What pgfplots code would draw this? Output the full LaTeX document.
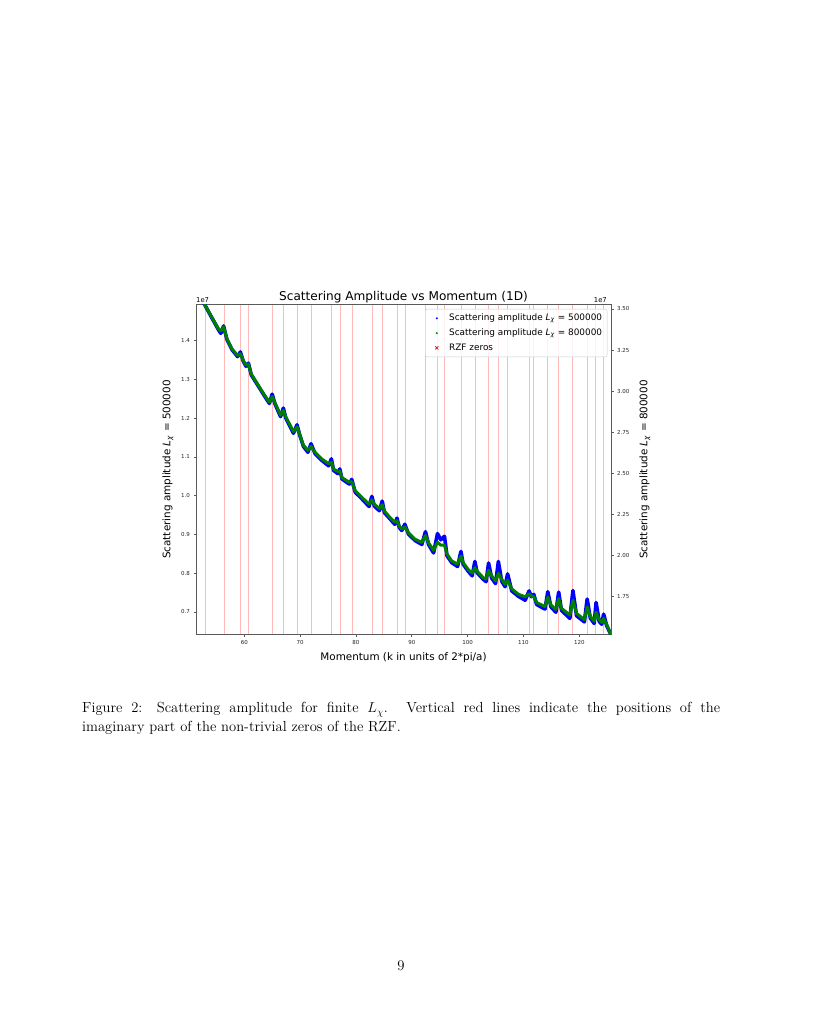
\documentclass[border=0pt]{standalone}
\usepackage{fontspec}
\usepackage{pgfplots}
\usepackage{pgfplotstable}
\pgfplotsset{compat=1.18}
\newfontfamily\dv{DejaVu Sans}
\definecolor{mplblue}{RGB}{0,0,255}
\definecolor{mplgreen}{RGB}{0,128,0}
\definecolor{zeroline}{RGB}{255,185,185}
\definecolor{spine}{RGB}{90,90,90}

% Scattering amplitude, L = 500000 (units of 1e7)
\pgfplotstableread{
k v
51.4 1.534
53.0 1.491
54.2 1.459
55.4 1.428
55.8 1.419
56.3 1.438
56.9 1.403
57.8 1.377
58.8 1.359
59.3 1.371
59.8 1.348
60.3 1.334
60.75 1.342
61.25 1.312
62.56 1.282
63.6 1.258
64.5 1.238
65.0 1.262
65.5 1.237
66.5 1.204
67.0 1.226
67.45 1.200
68.8 1.161
69.45 1.183
69.9 1.158
70.6 1.127
71.4 1.112
71.95 1.134
72.7 1.108
73.9 1.091
75.1 1.077
75.6 1.095
76.0 1.065
76.75 1.057
77.1 1.069
77.5 1.043
78.8 1.030
79.25 1.042
79.86 1.009
81.05 0.992
82.35 0.972
82.85 0.998
83.3 0.973
84.2 0.961
84.7 0.986
85.1 0.956
86.1 0.940
86.95 0.926
87.35 0.942
87.75 0.918
88.2 0.910
88.75 0.926
89.4 0.901
90.6 0.884
91.8 0.874
92.45 0.907
93.0 0.874
93.9 0.852
94.6 0.902
95.2 0.886
95.85 0.895
96.3 0.845
97.15 0.827
98.2 0.817
98.8 0.856
99.2 0.823
100.1 0.805
100.8 0.793
101.3 0.830
101.7 0.801
102.8 0.784
103.3 0.778
103.75 0.826
104.3 0.787
105.0 0.773
105.5 0.830
106.1 0.779
106.7 0.765
107.15 0.798
107.9 0.754
109.1 0.740
110.3 0.730
111.0 0.754
111.4 0.739
111.85 0.745
112.35 0.719
113.85 0.707
114.35 0.752
114.9 0.713
115.8 0.699
116.3 0.751
116.8 0.704
118.3 0.683
118.85 0.755
119.5 0.690
120.9 0.674
121.4 0.733
121.96 0.684
122.66 0.670
123.0 0.724
123.56 0.675
124.0 0.668
124.35 0.694
124.9 0.664
125.5 0.646
125.7 0.640
}\bluedata

% Scattering amplitude, L = 800000 (units of 1e7)
\pgfplotstableread{
k g
51.4 3.623
53.0 3.522
54.2 3.449
55.4 3.378
55.8 3.366
56.3 3.390
56.9 3.319
57.8 3.257
58.8 3.217
59.3 3.227
59.8 3.189
60.3 3.158
60.75 3.165
61.25 3.104
62.56 3.033
63.6 2.977
64.5 2.934
65.0 2.967
65.5 2.929
66.5 2.854
67.0 2.882
67.45 2.842
68.8 2.755
69.45 2.783
69.9 2.741
70.6 2.670
71.4 2.641
71.95 2.665
72.7 2.627
73.9 2.587
75.1 2.559
75.6 2.568
76.0 2.526
76.75 2.512
77.1 2.514
77.5 2.474
78.8 2.446
79.25 2.450
79.86 2.394
81.05 2.354
82.35 2.313
82.85 2.339
83.3 2.311
84.2 2.287
84.7 2.309
85.1 2.271
86.1 2.231
86.95 2.203
87.35 2.212
87.75 2.179
88.2 2.162
88.75 2.174
89.4 2.139
90.6 2.099
91.8 2.080
92.45 2.122
93.0 2.077
93.9 2.033
94.6 2.080
95.2 2.063
95.85 2.063
96.3 2.009
97.15 1.967
98.2 1.948
98.8 1.997
99.2 1.957
100.1 1.915
100.8 1.893
101.3 1.926
101.7 1.905
102.8 1.865
103.3 1.858
103.75 1.910
104.3 1.877
105.0 1.846
105.5 1.891
106.1 1.856
106.7 1.825
107.15 1.849
107.9 1.797
109.1 1.764
110.3 1.749
111.0 1.768
111.4 1.754
111.85 1.749
112.35 1.714
113.85 1.690
114.35 1.747
114.9 1.700
115.8 1.672
116.3 1.738
116.8 1.679
118.3 1.638
118.85 1.728
119.5 1.648
120.9 1.610
121.4 1.688
121.96 1.631
122.66 1.601
123.0 1.655
123.56 1.610
124.0 1.594
124.35 1.617
124.9 1.580
125.5 1.532
125.7 1.516
}\greendata

\pgfplotsset{
  common/.style={
    at={(196pt,382.7pt)}, anchor=south west,
    scale only axis, width=415pt, height=329.6pt,
    xmin=51.36, xmax=125.67,
    tick align=outside, major tick length=2.5pt,
    every tick/.style={spine, line width=0.6pt},
    axis line style={spine, line width=0.8pt},
    tick label style={font=\dv\fontsize{5.5}{6}\selectfont, text=black!85},
    /pgf/number format/assume math mode=true,
    label style={font=\dv\fontsize{10.4}{12}\selectfont},
    clip mode=individual,
  }
}

\begin{document}
\begin{tikzpicture}[x=1pt,y=1pt]
\useasboundingbox[fill=white] (0,0) rectangle (822,1017);

\begin{axis}[common,
  ymin=0.642, ymax=1.493,
  xtick={60,70,80,90,100,110,120},
  xtick pos=bottom, ytick pos=left,
  ytick={0.7,0.8,0.9,1.0,1.1,1.2,1.3,1.4},
  yticklabel style={/pgf/number format/fixed, /pgf/number format/fixed zerofill, /pgf/number format/precision=1},
  xlabel={Momentum (k in units of 2*pi/a)},
  ylabel={Scattering amplitude \textit{L}\textsubscript{\textit{χ}} = 500000},
  xlabel style={yshift=1pt},
  ylabel style={at={(rel axis cs:0,0.5)}, anchor=center, rotate=0, yshift=28pt},
  extra x ticks={52.97,56.45,59.35,60.83,65.11,67.08,69.55,72.07,75.70,77.14,79.34,82.91,84.74,87.43,88.81,92.49,94.65,95.87,98.83,101.32,103.73,105.45,107.17,111.03,111.87,114.32,116.23,118.79,121.37,122.95,124.26},
  extra x tick labels={},
  extra x tick style={grid=major, major grid style={zeroline, line width=0.9pt}, major tick length=0pt},
]
\addplot[mplblue, line width=3.6pt, line join=round] table[x=k, y=v] {\bluedata};
\node[anchor=base west, inner sep=0, font=\dv\fontsize{6.8}{8}\selectfont] at (rel axis cs:0,1) [yshift=2pt] {1e7};
\node[anchor=base, inner sep=0, font=\dv\fontsize{12.1}{14}\selectfont] at (rel axis cs:0.5,1) [yshift=4pt] {Scattering Amplitude vs Momentum (1D)};
\end{axis}

\begin{axis}[common,
  ymin=1.521, ymax=3.526,
  axis x line=none, axis y line*=right,
  ytick={1.75,2.00,2.25,2.50,2.75,3.00,3.25,3.50},
  yticklabel style={/pgf/number format/fixed, /pgf/number format/fixed zerofill, /pgf/number format/precision=2},
  ylabel={Scattering amplitude \textit{L}\textsubscript{\textit{χ}} = 800000},
  ylabel style={at={(rel axis cs:1,0.5)}, anchor=center, rotate=0, yshift=-34pt},
  legend image code/.code={\path (0pt,0pt) (14pt,0pt); \draw[mark repeat=1,mark phase=1,#1] plot coordinates {(8pt,0pt)};},
  legend style={at={(1,1)}, xshift=-3.7pt, yshift=-4.3pt, anchor=north east,
    font=\dv\fontsize{8.9}{10}\selectfont, draw=black!20, rounded corners=2pt,
    fill=white, fill opacity=0.8, text opacity=1, inner xsep=3pt, inner ysep=3pt,
    row sep=2.6pt, /tikz/every odd column/.append style={column sep=4pt}},
  legend cell align=left,
]
\addlegendimage{only marks, mark=*, mark size=0.8pt, mplblue}
\addlegendentry{Scattering amplitude \textit{L}\textsubscript{\textit{χ}} = 500000}
\addlegendimage{only marks, mark=*, mark size=0.8pt, mplgreen}
\addlegendentry{Scattering amplitude \textit{L}\textsubscript{\textit{χ}} = 800000}
\addlegendimage{only marks, mark=x, mark size=2.2pt, red, line width=0.7pt}
\addlegendentry{RZF zeros}
\addplot[mplgreen, line width=3.0pt, line join=round, forget plot] table[x=k, y=g] {\greendata};
\node[anchor=base east, inner sep=0, font=\dv\fontsize{6.8}{8}\selectfont] at (rel axis cs:1,1) [yshift=2pt, xshift=-4pt] {1e7};
\end{axis}

\node[anchor=base west, inner sep=0] at (82,304) {\parbox[t]{638pt}{\fontsize{14.6pt}{18.3pt}\selectfont Figure 2: Scattering amplitude for finite $L_\chi$. Vertical red lines indicate the positions of the\linebreak imaginary part of the non-trivial zeros of the RZF.}};
\node[anchor=base, inner sep=0, font=\fontsize{14.7pt}{18pt}\selectfont] at (401,46) {9};
\end{tikzpicture}
\end{document}
